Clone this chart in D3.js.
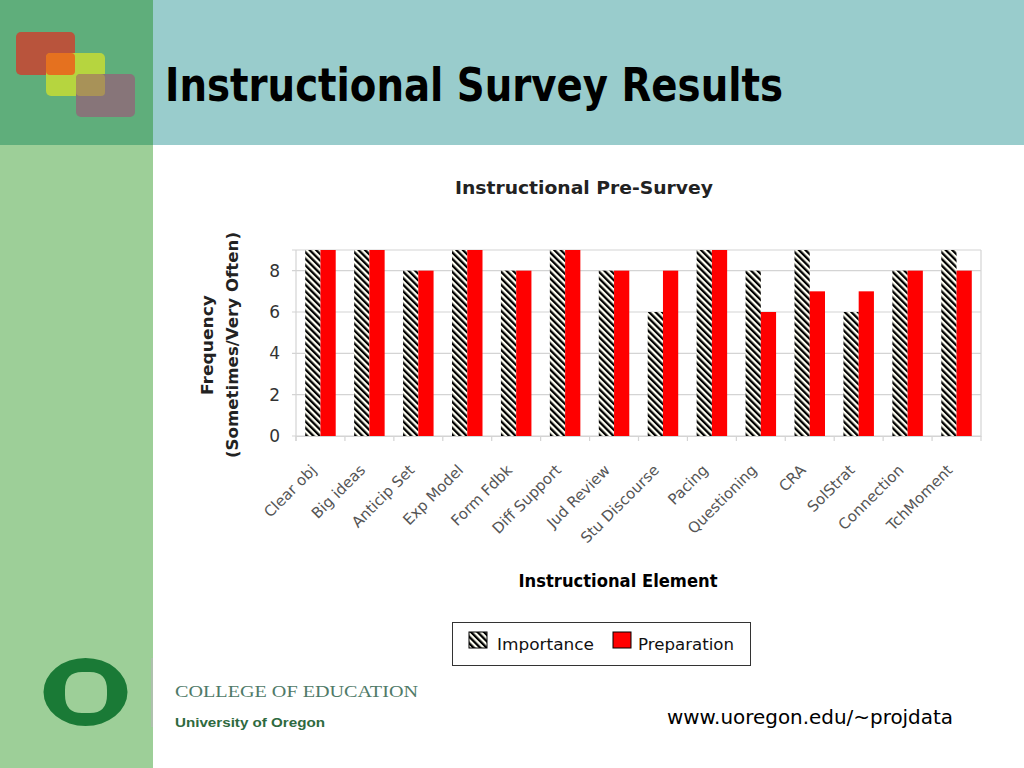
<!DOCTYPE html>
<html>
<head>
<meta charset="utf-8">
<script src="https://cdn.jsdelivr.net/npm/d3@7"></script>
<style>
  html, body { margin: 0; padding: 0; background: #ffffff; }
  svg { display: block; }
</style>
</head>
<body>
<svg id="chart" width="1024" height="768"></svg>
<script>
// ---------------- DATA ----------------
const categories = ["Clear obj", "Big ideas", "Anticip Set", "Exp Model", "Form Fdbk", "Diff Support",
  "Jud Review", "Stu Discourse", "Pacing", "Questioning", "CRA", "SolStrat", "Connection", "TchMoment"];
const importance = [9, 9, 8, 9, 8, 9, 8, 6, 9, 8, 9, 6, 8, 9];
const preparation = [9, 9, 8, 9, 8, 9, 8, 8, 9, 6, 7, 7, 8, 8];
const seriesNames = ["Importance", "Preparation"];
const yTicks = [0, 2, 4, 6, 8];
const yMax = 9;

const pageTitle = "Instructional Survey Results";
const chartTitle = "Instructional Pre-Survey";
const xTitle = "Instructional Element";
const yTitle1 = "Frequency";
const yTitle2 = "(Sometimes/Very Often)";

// ---------------- SETUP ----------------
const svg = d3.select("#chart");
const FONT = "'DejaVu Sans', 'Lato', sans-serif";

// background blocks
svg.append("rect").attr("x", 0).attr("y", 0).attr("width", 153).attr("height", 145).attr("fill", "#5fae7b");
svg.append("rect").attr("x", 153).attr("y", 0).attr("width", 871).attr("height", 145).attr("fill", "#99cccc");
svg.append("rect").attr("x", 0).attr("y", 145).attr("width", 153).attr("height", 623).attr("fill", "#9dcf98");

// logo squares top-left
const logo = svg.append("g");
logo.append("rect").attr("x", 16).attr("y", 32).attr("width", 59).attr("height", 43).attr("rx", 5).attr("fill", "#b9543c");
logo.append("rect").attr("x", 46).attr("y", 53).attr("width", 59).attr("height", 43).attr("rx", 5).attr("fill", "#b6d53f");
logo.append("rect").attr("x", 46).attr("y", 53).attr("width", 29).attr("height", 22).attr("rx", 4).attr("fill", "#e5711f");
logo.append("rect").attr("x", 76).attr("y", 74).attr("width", 59).attr("height", 43).attr("rx", 5).attr("fill", "#877579");
logo.append("rect").attr("x", 76).attr("y", 74).attr("width", 29).attr("height", 22).attr("rx", 4).attr("fill", "#a89258");

// page title
svg.append("text").attr("x", 165).attr("y", 101)
  .attr("font-family", FONT).attr("font-weight", "bold").attr("font-size", 46)
  .attr("textLength", 618).attr("lengthAdjust", "spacingAndGlyphs")
  .attr("fill", "#000").text(pageTitle);

// ---------------- CHART ----------------
const plot = { left: 296, right: 981, top: 250, bottom: 436 };

const x = d3.scaleBand().domain(categories).range([plot.left, plot.right]).paddingInner(0).paddingOuter(0);
const y = d3.scaleLinear().domain([0, yMax]).range([plot.bottom, plot.top]);
const groupW = 30.5;
const xs = d3.scaleBand().domain(seriesNames).range([0, groupW]).padding(0);

// hatch pattern
const defs = svg.append("defs");
const pat = defs.append("pattern").attr("id", "hatch").attr("patternUnits", "userSpaceOnUse")
  .attr("width", 4.6).attr("height", 4.6).attr("patternTransform", "rotate(-45)");
pat.append("rect").attr("width", 4.6).attr("height", 4.6).attr("fill", "#fffff2");
pat.append("rect").attr("x", 0).attr("y", 0).attr("width", 2.3).attr("height", 4.6).attr("fill", "#000");

// chart title
svg.append("text").attr("x", 584).attr("y", 194).attr("text-anchor", "middle")
  .attr("font-family", FONT).attr("font-weight", "bold").attr("font-size", 18)
  .attr("textLength", 258).attr("lengthAdjust", "spacingAndGlyphs")
  .attr("fill", "#222").text(chartTitle);

// gridlines
svg.append("g").selectAll("line").data(yTicks.concat([yMax])).join("line")
  .attr("x1", plot.left - 4).attr("x2", plot.right)
  .attr("y1", d => y(d)).attr("y2", d => y(d))
  .attr("stroke", "#d4d4d4").attr("stroke-width", 1.2);
// plot border (left & right)
svg.append("line").attr("x1", plot.left).attr("x2", plot.left).attr("y1", plot.top).attr("y2", plot.bottom + 5)
  .attr("stroke", "#d4d4d4").attr("stroke-width", 1.2);
svg.append("line").attr("x1", plot.right).attr("x2", plot.right).attr("y1", plot.top).attr("y2", plot.bottom + 5)
  .attr("stroke", "#d4d4d4").attr("stroke-width", 1.2);

// y axis labels
const yAxis = d3.axisLeft(y).tickValues(yTicks).tickSize(0).tickPadding(12);
const gy = svg.append("g").attr("transform", `translate(${plot.left - 4},0)`).call(yAxis);
gy.select(".domain").remove();
gy.selectAll("text").attr("font-family", FONT).attr("font-size", 17).attr("fill", "#333");

// x axis ticks
const xAxis = d3.axisBottom(x).tickSize(0).tickFormat("");
const gx = svg.append("g").attr("transform", `translate(0,${plot.bottom})`).call(xAxis);
gx.select(".domain").attr("stroke", "#d4d4d4").attr("stroke-width", 1.2);
gx.selectAll(".tick").remove();
gx.selectAll("line.sep").data(categories).join("line").attr("class", "sep")
  .attr("x1", d => x(d)).attr("x2", d => x(d)).attr("y1", 0).attr("y2", 5)
  .attr("stroke", "#d4d4d4").attr("stroke-width", 1.2);

// x labels
svg.append("g").selectAll("text").data(categories).join("text")
  .attr("transform", d => `translate(${x(d) + x.bandwidth() / 2 - 3},${plot.bottom + 35}) rotate(-45)`)
  .attr("text-anchor", "end")
  .attr("font-family", FONT).attr("font-size", 15).attr("fill", "#555")
  .text(d => d);

// bars
const rows = categories.map((c, i) => ({ cat: c, vals: [importance[i], preparation[i]] }));
const gBars = svg.append("g");
const grp = gBars.selectAll("g").data(rows).join("g")
  .attr("transform", d => `translate(${x(d.cat) + (x.bandwidth() - groupW) / 2},0)`);
grp.selectAll("rect").data(d => d.vals.map((v, k) => ({ s: seriesNames[k], v }))).join("rect")
  .attr("x", d => xs(d.s)).attr("width", xs.bandwidth())
  .attr("y", d => y(d.v)).attr("height", d => y(0) - y(d.v))
  .attr("fill", d => d.s === "Importance" ? "url(#hatch)" : "#ff0000");

// y title
const yt = svg.append("g").attr("transform", "translate(0,345) rotate(-90)");
yt.append("text").attr("x", 0).attr("y", 213).attr("text-anchor", "middle")
  .attr("font-family", FONT).attr("font-weight", "bold").attr("font-size", 16).attr("fill", "#222")
  .attr("textLength", 100).attr("lengthAdjust", "spacingAndGlyphs").text(yTitle1);
yt.append("text").attr("x", 0).attr("y", 238).attr("text-anchor", "middle")
  .attr("font-family", FONT).attr("font-weight", "bold").attr("font-size", 16).attr("fill", "#222")
  .attr("textLength", 226).attr("lengthAdjust", "spacingAndGlyphs").text(yTitle2);

// x title
svg.append("text").attr("x", 618).attr("y", 587).attr("text-anchor", "middle")
  .attr("font-family", FONT).attr("font-weight", "bold").attr("font-size", 17).attr("fill", "#000")
  .attr("textLength", 199).attr("lengthAdjust", "spacingAndGlyphs").text(xTitle);

// legend
const lg = svg.append("g");
lg.append("rect").attr("x", 452.5).attr("y", 622.5).attr("width", 298).attr("height", 43)
  .attr("fill", "#fff").attr("stroke", "#333").attr("stroke-width", 1);
const legendItems = [
  { name: seriesNames[0], fill: "url(#hatch)", sx: 469, tx: 497, tw: 97 },
  { name: seriesNames[1], fill: "#ff0000", sx: 613, tx: 638, tw: 96 }
];
legendItems.forEach(it => {
  lg.append("rect").attr("x", it.sx).attr("y", 632).attr("width", 18).attr("height", 16)
    .attr("fill", it.fill).attr("stroke", "#000").attr("stroke-width", 1);
  lg.append("text").attr("x", it.tx).attr("y", 650).attr("font-family", FONT).attr("font-size", 16)
    .attr("fill", "#111").attr("textLength", it.tw).attr("lengthAdjust", "spacingAndGlyphs").text(it.name);
});

// bottom logo
svg.append("path")
  .attr("d", "M85.5,658 A42,34 0 1,0 85.5,726 A42,34 0 1,0 85.5,658 Z " +
             "M82,672 L90,672 Q107,672 107,690 L107,695 Q107,713 90,713 L82,713 Q65,713 65,695 L65,690 Q65,672 82,672 Z")
  .attr("fill", "#1a7a36").attr("fill-rule", "evenodd");
svg.append("line").attr("x1", 152).attr("x2", 152).attr("y1", 658).attr("y2", 727)
  .attr("stroke", "#b5bdb5").attr("stroke-width", 1.5);
svg.append("text").attr("x", 175).attr("y", 697).attr("font-family", "'Liberation Serif', 'DejaVu Serif', serif")
  .attr("font-size", 17).attr("fill", "#4f7a68").attr("textLength", 243).attr("lengthAdjust", "spacingAndGlyphs")
  .text("COLLEGE OF EDUCATION");
svg.append("text").attr("x", 175).attr("y", 727).attr("font-family", "'Liberation Sans', Arial, sans-serif")
  .attr("font-weight", "bold").attr("font-size", 13).attr("fill", "#2e6a40")
  .attr("textLength", 150).attr("lengthAdjust", "spacingAndGlyphs").text("University of Oregon");
svg.append("text").attr("x", 667).attr("y", 724).attr("font-family", FONT).attr("font-size", 19)
  .attr("fill", "#000").attr("textLength", 286).attr("lengthAdjust", "spacingAndGlyphs")
  .text("www.uoregon.edu/~projdata");
</script>
</body>
</html>
